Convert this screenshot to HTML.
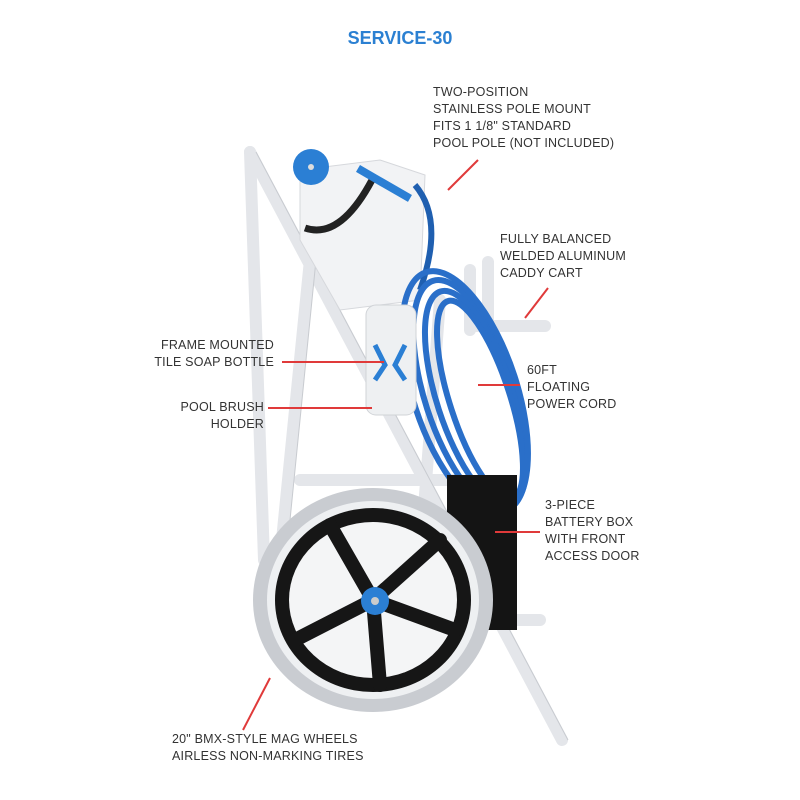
<!DOCTYPE html>
<html><head><meta charset="utf-8"><style>
body{margin:0;width:800px;height:800px;background:#fff;overflow:hidden;font-family:"Liberation Sans",sans-serif}
svg{position:absolute;left:0;top:0}
.t{position:absolute;font-size:12.5px;color:#333;line-height:17px;letter-spacing:0.2px}
.r{text-align:right}
</style></head><body>
<svg width="800" height="800">
<g stroke="#e4e6ea" stroke-width="12" stroke-linecap="round" fill="none">
<line x1="250" y1="152" x2="562" y2="740"/>
<line x1="250" y1="152" x2="264" y2="560"/>
<line x1="313" y1="230" x2="272" y2="640"/>
<line x1="440" y1="300" x2="420" y2="560"/>
<line x1="470" y1="270" x2="470" y2="330"/>
<line x1="488" y1="262" x2="488" y2="330"/>
<line x1="470" y1="326" x2="545" y2="326"/>
<line x1="300" y1="480" x2="460" y2="480"/>
<line x1="400" y1="620" x2="540" y2="620"/>
</g>
<g stroke="#c8cbd0" stroke-width="1" fill="none">
<line x1="256" y1="152" x2="568" y2="740"/>
<line x1="319" y1="230" x2="278" y2="640"/>
</g>
<polygon points="300,170 380,160 425,175 420,300 340,310 300,240" fill="#f2f3f5" stroke="#d6d8dc"/>
<path d="M305,228 Q340,240 372,180" stroke="#222" stroke-width="7" fill="none"/>
<circle cx="311" cy="167" r="18" fill="#2b7fd4"/><circle cx="311" cy="167" r="3" fill="#ddd"/>
<rect x="360" y="165" width="60" height="8" fill="#2b7fd4" transform="rotate(30 360 165)"/>
<path d="M415,185 Q445,220 420,290" stroke="#1f5fb0" stroke-width="6" fill="none"/>
<g fill="none" stroke="#2a6fc9" stroke-width="6">
<ellipse cx="470" cy="395" rx="45" ry="120" transform="rotate(-18 470 395)"/>
<ellipse cx="475" cy="398" rx="38" ry="112" transform="rotate(-18 475 398)"/>
<ellipse cx="480" cy="400" rx="30" ry="104" transform="rotate(-18 480 400)"/>
<ellipse cx="465" cy="392" rx="52" ry="126" transform="rotate(-18 465 392)"/>
</g>
<rect x="366" y="305" width="50" height="110" rx="10" fill="#eef0f2" stroke="#d0d3d7"/>
<path d="M375,345 l10,20 -10,15 M405,345 l-10,20 10,15" stroke="#2b7fd4" stroke-width="5" fill="none"/>
<rect x="447" y="475" width="70" height="155" fill="#141414"/>
<ellipse cx="373" cy="600" rx="120" ry="112" fill="#c9ccd1"/>
<ellipse cx="373" cy="600" rx="106" ry="99" fill="#eef0f2"/>
<ellipse cx="373" cy="600" rx="98" ry="92" fill="#161616"/>
<ellipse cx="373" cy="600" rx="84" ry="78" fill="#f4f5f6"/>
<g stroke="#161616" stroke-width="14" stroke-linecap="round">
<line x1="373" y1="600" x2="330" y2="525"/>
<line x1="373" y1="600" x2="440" y2="540"/>
<line x1="373" y1="600" x2="455" y2="630"/>
<line x1="373" y1="600" x2="380" y2="685"/>
<line x1="373" y1="600" x2="295" y2="640"/>
</g>
<circle cx="375" cy="601" r="14" fill="#2b7fd4"/><circle cx="375" cy="601" r="4" fill="#ccc"/>
<g stroke="#e03a3a" stroke-width="2">
<line x1="448" y1="190" x2="478" y2="160"/>
<line x1="525" y1="318" x2="548" y2="288"/>
<line x1="282" y1="362" x2="384" y2="362"/>
<line x1="478" y1="385" x2="520" y2="385"/>
<line x1="268" y1="408" x2="372" y2="408"/>
<line x1="495" y1="532" x2="540" y2="532"/>
<line x1="243" y1="730" x2="270" y2="678"/>
</g>
</svg>
<div style="position:absolute;left:0;width:800px;top:28px;text-align:center;font-weight:bold;font-size:18px;color:#2b80d2">SERVICE-30</div>
<div class="t" style="left:433px;top:84px">TWO-POSITION<br>STAINLESS POLE MOUNT<br>FITS 1 1/8" STANDARD<br>POOL POLE (NOT INCLUDED)</div>
<div class="t" style="left:500px;top:231px">FULLY BALANCED<br>WELDED ALUMINUM<br>CADDY CART</div>
<div class="t r" style="right:526px;top:337px">FRAME MOUNTED<br>TILE SOAP BOTTLE</div>
<div class="t" style="left:527px;top:362px">60FT<br>FLOATING<br>POWER CORD</div>
<div class="t r" style="right:536px;top:399px">POOL BRUSH<br>HOLDER</div>
<div class="t" style="left:545px;top:497px">3-PIECE<br>BATTERY BOX<br>WITH FRONT<br>ACCESS DOOR</div>
<div class="t" style="left:172px;top:731px">20" BMX-STYLE MAG WHEELS<br>AIRLESS NON-MARKING TIRES</div>
</body></html>
